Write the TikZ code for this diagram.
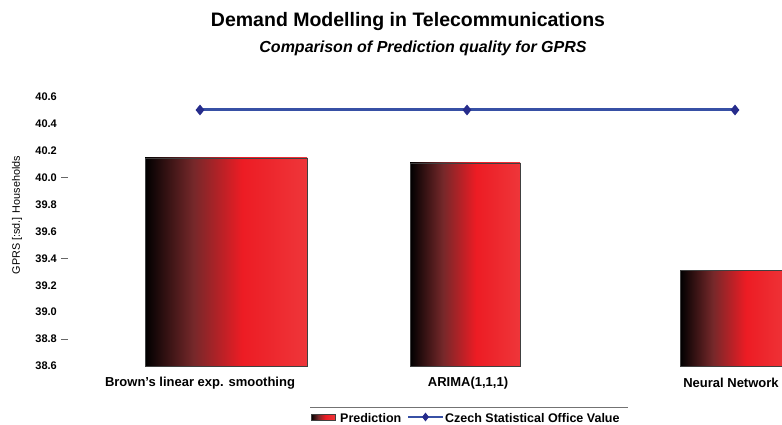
\documentclass[tikz,border=0pt]{standalone}
\usepackage{fontspec}
\setmainfont{Liberation Sans}
\usetikzlibrary{shapes.geometric,calc}

\definecolor{barred}{RGB}{237,28,36}
\definecolor{barredlight}{RGB}{238,54,58}
\definecolor{barbrown}{RGB}{118,40,42}
\definecolor{csoline}{RGB}{55,80,165}
\definecolor{csomark}{RGB}{38,44,140}

% tikz fits the middle 50bp of a shading to the path
\pgfdeclarehorizontalshading{barshade}{100bp}{color(0bp)=(black);
  color(25bp)=(black); color(40bp)=(barbrown); color(55bp)=(barred);
  color(75bp)=(barredlight); color(100bp)=(barredlight)}

\tikzset{
    bar/.style={shading=barshade, draw=black!75, line width=0.8pt},
    csomarker/.style={diamond, fill=csomark, inner sep=0pt,
        minimum width=9pt, minimum height=11pt},
    ticklabel/.style={anchor=east, font=\fontsize{11}{13}\selectfont\bfseries,
        inner sep=0pt},
    catlabel/.style={font=\fontsize{13}{15}\selectfont\bfseries, inner sep=0pt},
    leglabel/.style={anchor=west, font=\fontsize{12.5}{15}\selectfont\bfseries,
        inner sep=0pt}
}

\begin{document}
\begin{tikzpicture}[x=1pt, y=-1pt]
            \useasboundingbox[fill=white] (0,0) rectangle (782,425);

            % titles
            \node[
                font=\fontsize{19.5}{22}\selectfont\bfseries,
                name=title
            ] at (408,22) {Demand Modelling in Telecommunications};
            \node[
                font=\fontsize{16}{19}\selectfont\bfseries\itshape,
                name=subtitle
            ] at (423,48) {Comparison of Prediction quality for GPRS};

            % y axis
            \node[
                rotate=90,
                font=\fontsize{10.8}{12}\selectfont,
                name=ylabel
            ] at (17,215) {GPRS [:sd.] Households};
            \foreach \val [count=\i from 0] in {40.6,40.4,40.2,40.0,39.8,39.6,39.4,39.2,39.0,38.8,38.6}
                \node[ticklabel, name=tick\i] at (57,97+26.9*\i) {\val};
            \foreach \i in {3,6,9}
                \draw[black!60, line width=0.5pt] ([xshift=4pt]tick\i.east) -- ++(7,0);

            % bars
            \begin{scope}
                \clip (0,0) rectangle (782,425);
                \path[bar] (145,158) rectangle (307,366);
                \path[bar] (410,163) rectangle (520,366);
                \path[bar] (680,270) rectangle (790,366);
            \end{scope}

            % categories
            \node[catlabel, name=cat1] at (200,383) {Brown's linear exp. smoothing};
            \node[catlabel, name=cat2] at (468,383) {ARIMA(1,1,1)};
            \node[catlabel, name=cat3] at (731,383) {Neural Network};

            % statistical office value
            \coordinate (m1) at (200,110);
            \coordinate (m2) at (467,110);
            \coordinate (m3) at (735,110);
            \draw[csoline, line width=3pt] (m1) -- (m2) -- (m3);
            \foreach \m in {m1,m2,m3}
                \node[csomarker] at (\m) {};

            % legend
            \draw[black!55, line width=0.6pt] (310,407) -- (628,407);
            \path[bar, line width=0.5pt] (311,414) rectangle (335,420);
            \node[leglabel, name=legpred] at (340,418) {Prediction};
            \coordinate (l1) at (408,417);
            \coordinate (l2) at (443,417);
            \draw[csoline, line width=2.5pt] (l1) -- (l2);
            \node[csomarker, minimum width=7pt, minimum height=9pt] at ($(l1)!0.5!(l2)$) {};
            \node[leglabel, name=legcso] at (445,418) {Czech Statistical Office Value};
        \end{tikzpicture}
\end{document}
